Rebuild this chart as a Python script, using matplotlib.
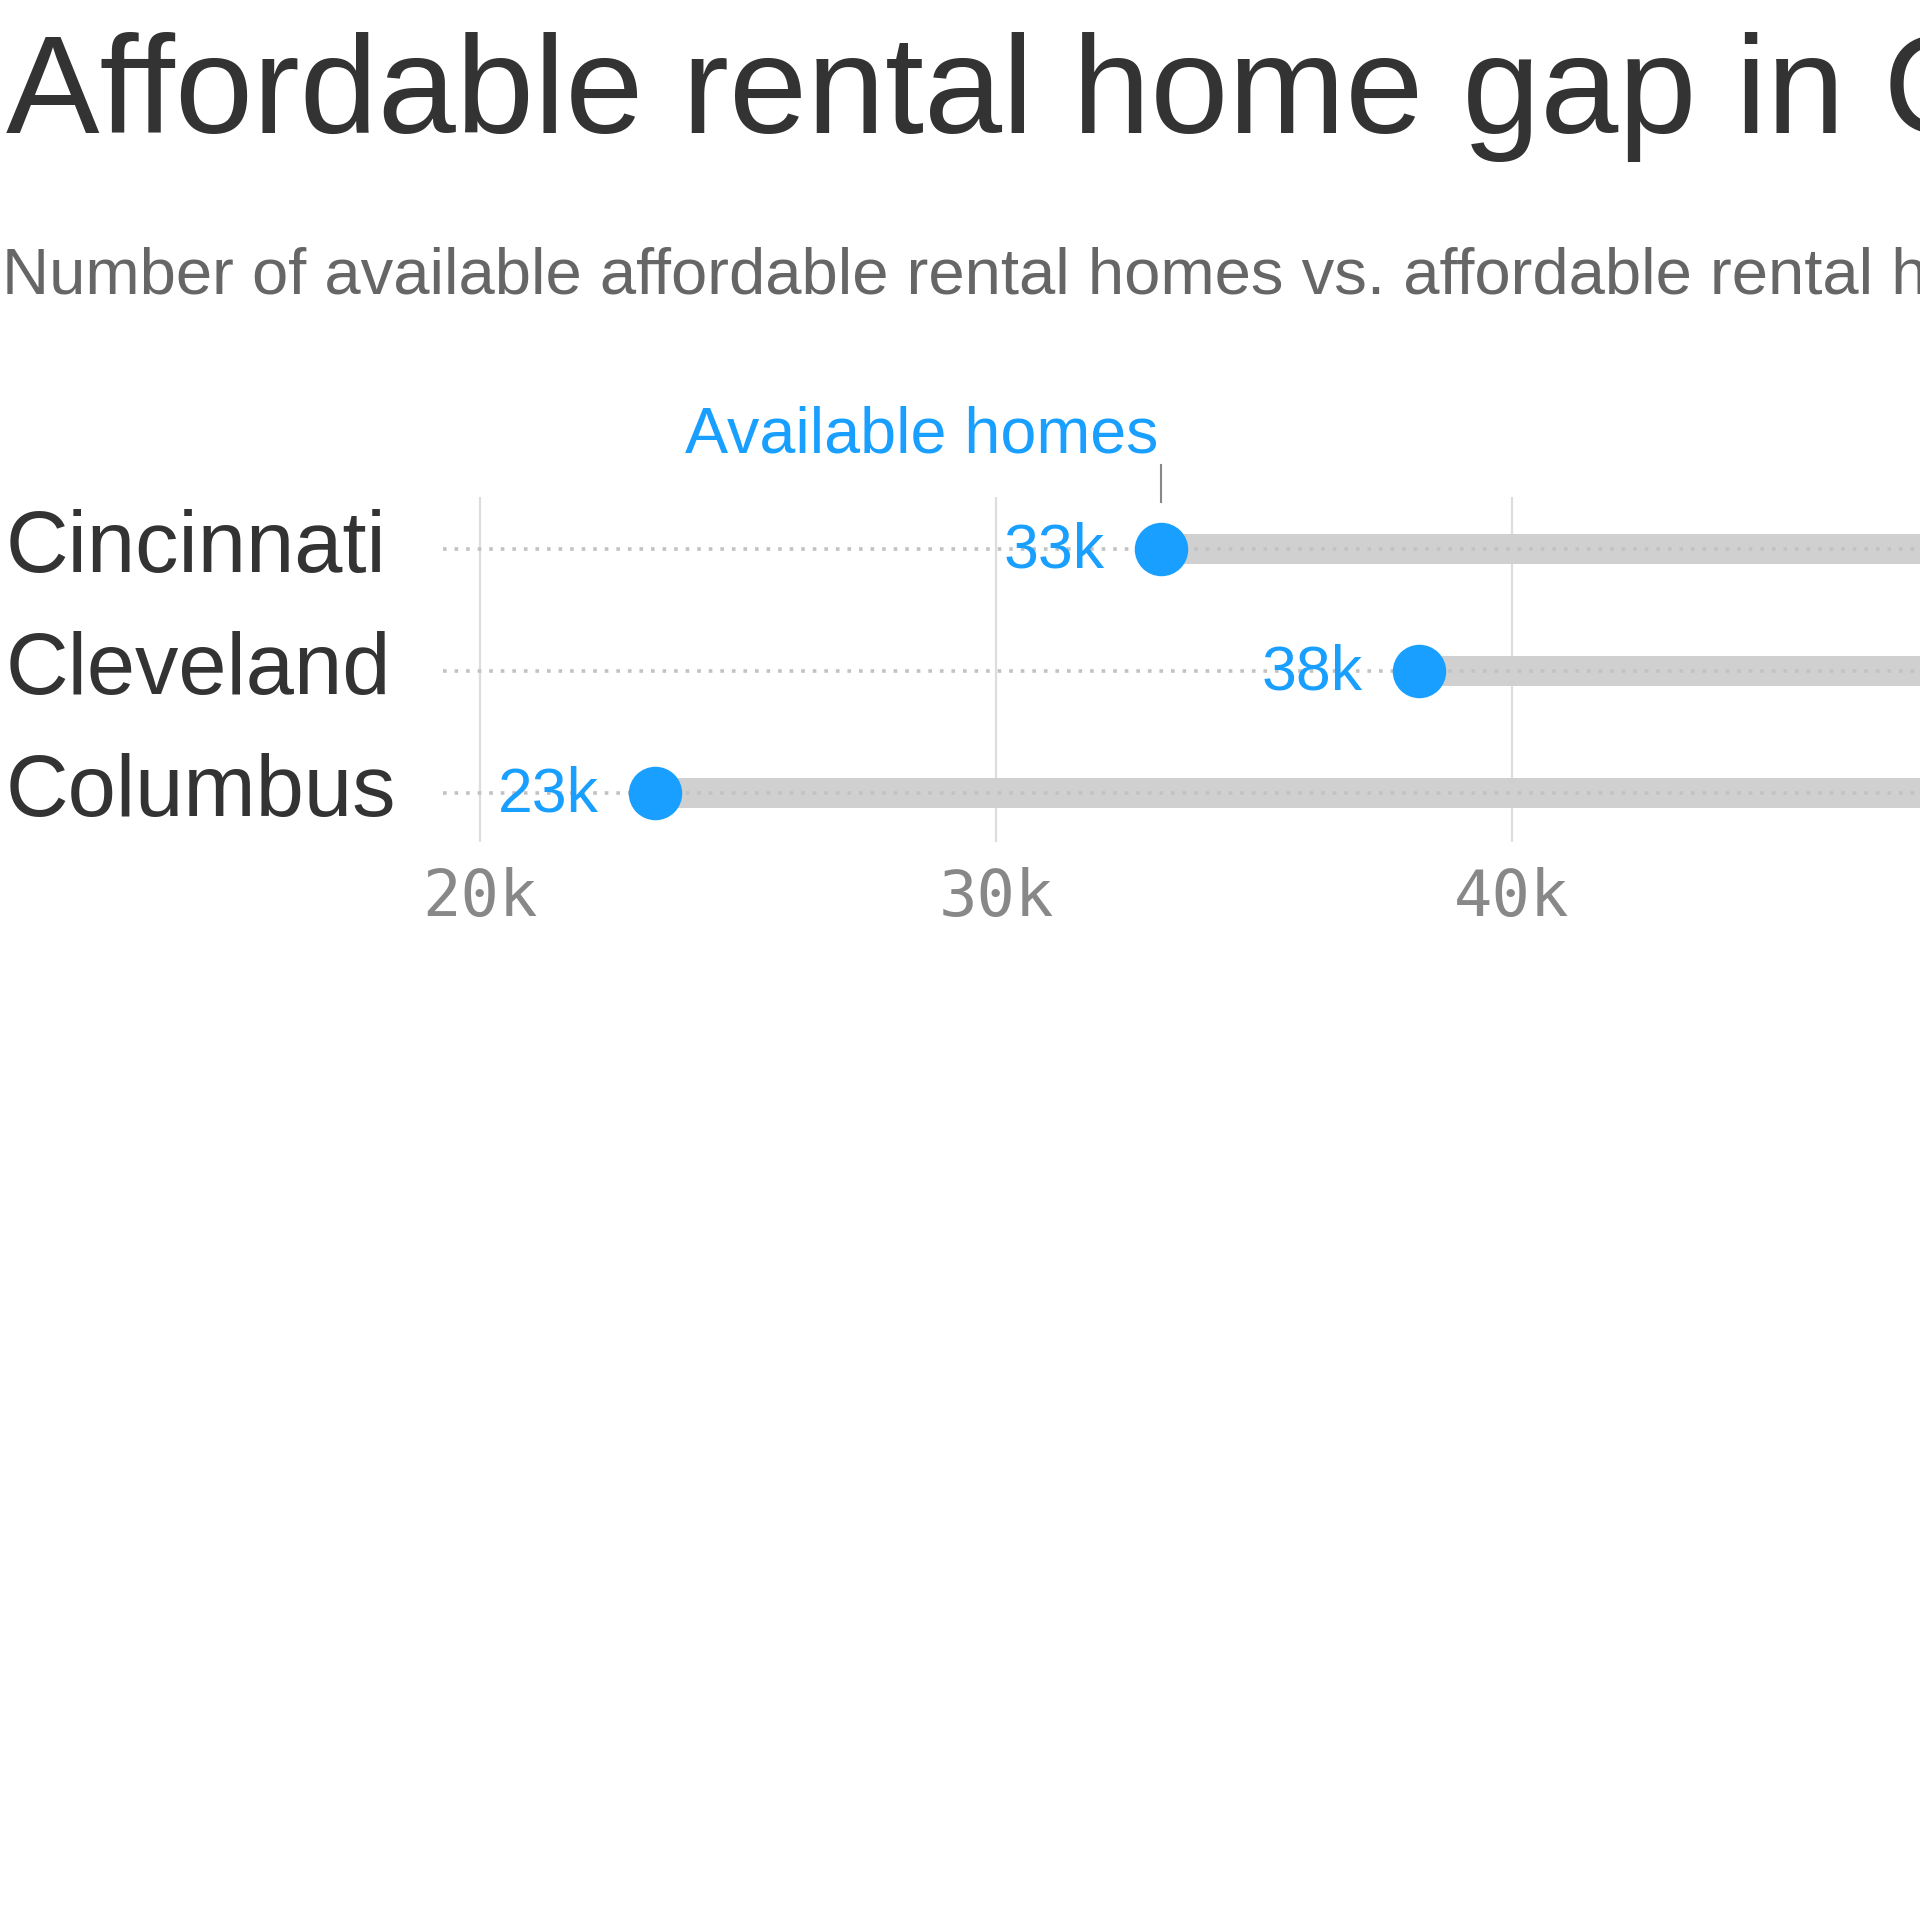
import matplotlib
matplotlib.use("Agg")
import matplotlib.pyplot as plt

# data (thousands of homes)
cities = ["Cincinnati", "Cleveland", "Columbus"]
available = [33.2, 38.2, 23.4]
needed = [66.0, 62.0, 75.0]   # right ends fall outside the cropped frame; estimated
xticks = [20, 30, 40]

BLUE = "#189fff"
BAR = "#d0d0d0"
DARK = "#333333"
SANS = "Liberation Sans"
MONO = "DejaVu Sans Mono"

fig = plt.figure(figsize=(19.2, 19.2), dpi=100)
fig.patch.set_facecolor("white")

# axes run past the right edge of the figure on purpose (chart is cropped)
W, H = 1920.0, 1920.0
px_per_k = 51.6
x0 = 19.283
x1 = 75.0
ax = fig.add_axes([443 / W, (H - 842) / H, (x1 - x0) * px_per_k / W, 345 / H])
ax.set_xlim(x0, x1)
ax.set_ylim(2.40, -0.426)

ys = list(range(len(cities)))
ax.barh(ys, [n - a for n, a in zip(needed, available)], left=available,
        height=0.25, color=BAR, zorder=2)
for y in ys:
    ax.axhline(y, color="#c2c2c2", lw=2.6, ls=(0, (1, 2.2)), zorder=3)
ax.plot(available, ys, "o", color=BLUE, ms=38.5, mew=0, zorder=4)

for y, a, c in zip(ys, available, cities):
    ax.annotate(f"{a:.0f}k", (a, y), xytext=(-40.5, -13), textcoords="offset points",
                ha="right", va="baseline", color=BLUE, fontsize=45, family=SANS, zorder=5)
    fig.text(6 / W, (H - 572 - (y * 122)) / H, c, ha="left", va="baseline",
             fontsize=62.5, color=DARK, family=SANS)

# "Available homes" callout above the first row
ax.plot([available[0], available[0]], [-0.69, -0.385], color="#888888", lw=1.5,
        clip_on=False, zorder=5)
ax.text(available[0] - 0.06, -0.787, "Available homes", ha="right", va="baseline",
        color=BLUE, fontsize=46.5, family=SANS)

ax.set_xticks(xticks)
ax.set_xticklabels([f"{t}k" for t in xticks], family=MONO, fontsize=46, color="#888888")
ax.set_yticks([])
ax.tick_params(axis="x", length=0, pad=18)
ax.grid(axis="x", color="#dddddd", lw=1.6, zorder=1)
ax.set_axisbelow(True)
for s in ax.spines.values():
    s.set_visible(False)

fig.text(6 / W, (H - 133) / H, "Affordable rental home gap in Ohio", ha="left",
         va="baseline", fontsize=101, color=DARK, family=SANS)
fig.text(2 / W, (H - 293) / H,
         "Number of available affordable rental homes vs. affordable rental homes needed",
         ha="left", va="baseline", fontsize=47, color="#666666", family=SANS)

fig.savefig("out.png", dpi=100, facecolor="white")
